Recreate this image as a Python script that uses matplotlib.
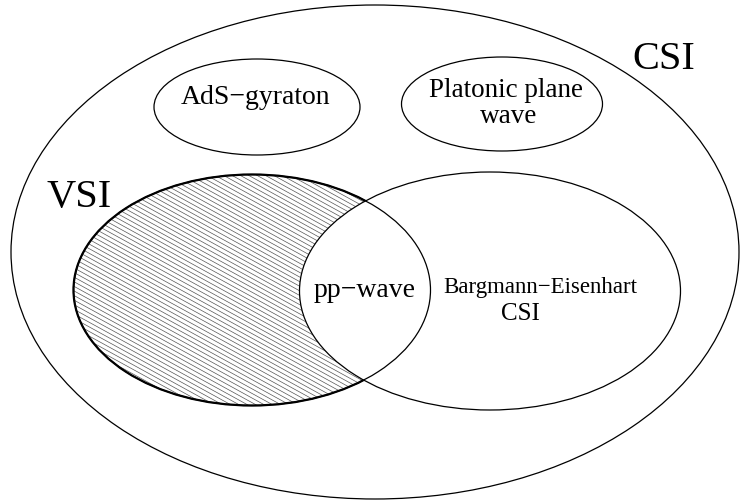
import numpy as np
import matplotlib
matplotlib.use("Agg")
import matplotlib.pyplot as plt
from matplotlib.patches import Ellipse

plt.rcParams['font.family'] = ['Liberation Serif', 'DejaVu Serif']

# set names and ellipse geometry (pixel-like units, y down)
sets = ['CSI', 'AdS', 'Platonic', 'VSI', 'Bargmann']
centers_x = [375, 257, 502, 252, 490]
centers_y = [252, 107, 104, 290, 291]
widths = [728, 206, 201, 357, 381]
heights = [494, 96, 94, 231, 238]

# text labels: (text, x, baseline y, fontsize)
label_text = ['CSI', 'VSI', 'AdS\u2212gyraton', 'Platonic plane', 'wave',
              'pp\u2212wave', 'Bargmann\u2212Eisenhart', 'CSI']
label_x = [664, 79, 256, 506, 509, 365, 540, 520]
label_y = [69, 207, 104, 97, 123, 297, 293, 320]
label_size = [29, 29, 20, 19.5, 19.5, 20, 16.5, 18]

fig = plt.figure(figsize=(7.42, 5.0), dpi=100)
ax = fig.add_axes([0, 0, 1, 1])
ax.set_xlim(0, 742)
ax.set_ylim(500, 0)
ax.axis('off')

ell = {}
for name, cx, cy, w, h in zip(sets, centers_x, centers_y, widths, heights):
    ell[name] = (cx, cy, w, h)

# hatching inside VSI, outside Bargmann
cx, cy, w, h = ell['VSI']
clip = Ellipse((cx, cy), w, h, facecolor='none', edgecolor='none')
ax.add_patch(clip)
slope = 0.55
xs = np.array([cx - w / 2 - 5, cx + w / 2 + 5])
for c in np.arange(cy - h / 2 - 250, cy + h / 2 + 50, 4.6):
    ln, = ax.plot(xs, c + slope * (xs - xs[0]), color='#555555', lw=0.5, zorder=1)
    ln.set_clip_path(clip)
# thick border of the hatched part
ax.add_patch(Ellipse((cx, cy), w, h, facecolor='none', edgecolor='black',
                     lw=1.6, zorder=1.5))

cx, cy, w, h = ell['Bargmann']
ax.add_patch(Ellipse((cx, cy), w, h, facecolor='white', edgecolor='none', zorder=2))

for name in sets:
    cx, cy, w, h = ell[name]
    ax.add_patch(Ellipse((cx, cy), w, h, facecolor='none', edgecolor='black',
                         lw=0.9, zorder=3))

for t, x, y, s in zip(label_text, label_x, label_y, label_size):
    ax.text(x, y, t, fontsize=s, ha='center', va='baseline', zorder=4)

fig.savefig('out.png', dpi=100)
